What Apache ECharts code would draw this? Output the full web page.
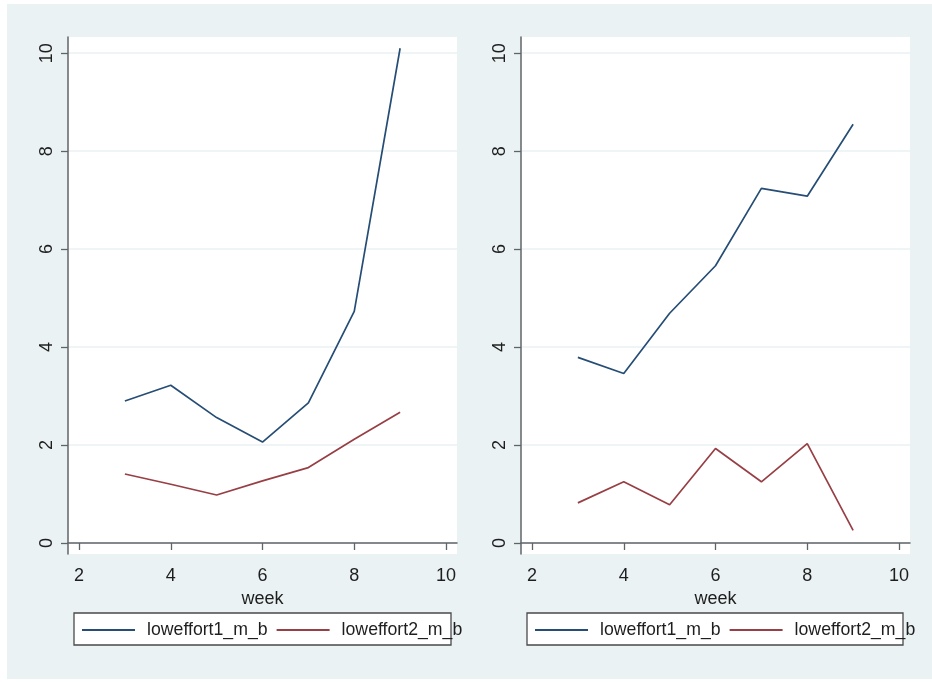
<!DOCTYPE html>
<html>
<head>
<meta charset="utf-8">
<title>loweffort by week</title>
<script src="https://cdn.jsdelivr.net/npm/echarts@6/dist/echarts.min.js"></script>
<style>
  html, body { margin: 0; padding: 0; background: #ffffff; }
  #chart { width: 932px; height: 682px; }
</style>
</head>
<body>
<div id="chart"></div>
<script>
// Weeks on the horizontal axis
const weeks = [3, 4, 5, 6, 7, 8, 9];

// Left panel
const leftLow1 = [2.90, 3.22, 2.56, 2.06, 2.86, 4.73, 10.10];
const leftLow2 = [1.41, 1.20, 0.98, 1.27, 1.54, 2.12, 2.67];

// Right panel
const rightLow1 = [3.79, 3.46, 4.69, 5.66, 7.24, 7.08, 8.55];
const rightLow2 = [0.82, 1.25, 0.78, 1.93, 1.25, 2.03, 0.26];

// Axis tick labels
const xTicks = [2, 4, 6, 8, 10];
const yTicks = [0, 2, 4, 6, 8, 10];

const seriesNames = ['loweffort1_m_b', 'loweffort2_m_b'];
const colors = ['#264d75', '#983f45'];

const FONT = 'Liberation Sans, Arial, sans-serif';
const AXIS_COLOR = '#5f6468';
const GRID_COLOR = '#eaf2f3';
const BG = '#eaf2f3';
const TEXT = '#1e1e1e';

function pairs(xs, ys) { return xs.map((x, i) => [x, ys[i]]); }

function xAxisFor(gridIndex) {
  return {
    type: 'value', gridIndex,
    min: 1.76, max: 10.24,
    name: 'week', nameLocation: 'middle', nameGap: 31,
    nameTextStyle: { fontFamily: FONT, fontSize: 18, color: TEXT },
    axisLine: { show: true, lineStyle: { color: AXIS_COLOR, width: 1.5 } },
    axisTick: { show: true, length: 7, customValues: xTicks, lineStyle: { color: AXIS_COLOR, width: 1.3 } },
    axisLabel: { customValues: xTicks, margin: 13, fontFamily: FONT, fontSize: 18, color: TEXT },
    splitLine: { show: false }
  };
}

function yAxisFor(gridIndex) {
  return {
    type: 'value', gridIndex,
    min: -0.224, max: 10.33,
    axisLine: { show: true, lineStyle: { color: AXIS_COLOR, width: 1.5 } },
    axisTick: { show: true, length: 7, customValues: yTicks, lineStyle: { color: AXIS_COLOR, width: 1.3 } },
    axisLabel: { customValues: yTicks, rotate: 90, margin: 12, fontFamily: FONT, fontSize: 18, color: TEXT },
    splitLine: { show: true, lineStyle: { color: GRID_COLOR, width: 1.5 } }
  };
}

function lineSeries(name, data, idx, color) {
  return {
    name, type: 'line', xAxisIndex: idx, yAxisIndex: idx,
    data, symbol: 'none', smooth: false, animation: false,
    lineStyle: { color, width: 1.7 }, itemStyle: { color }
  };
}

function legendFor(left) {
  return {
    left, top: 621, orient: 'horizontal', padding: 0,
    itemWidth: 53, itemHeight: 2, itemGap: 9, icon: 'rect',
    textStyle: { fontFamily: FONT, fontSize: 17.7, color: TEXT, padding: [0, 0, 0, 7] },
    data: seriesNames.map((n, i) => ({ name: n, itemStyle: { color: colors[i] } }))
  };
}

const chart = echarts.init(document.getElementById('chart'), null, { renderer: 'canvas' });

chart.setOption({
  animation: false,
  backgroundColor: '#ffffff',
  graphic: [
    { type: 'rect', z: -10, shape: { x: 7, y: 4, width: 925, height: 675 }, style: { fill: BG } },
    { type: 'rect', z: -5, shape: { x: 74, y: 613, width: 377, height: 32 }, style: { fill: '#ffffff', stroke: '#4a4a4a', lineWidth: 1.3 } },
    { type: 'rect', z: -5, shape: { x: 527, y: 613, width: 376, height: 32 }, style: { fill: '#ffffff', stroke: '#4a4a4a', lineWidth: 1.3 } }
  ],
  grid: [
    { left: 68, right: 475, top: 37, bottom: 128, show: true, backgroundColor: '#ffffff', borderWidth: 0 },
    { left: 521, right: 22, top: 37, bottom: 128, show: true, backgroundColor: '#ffffff', borderWidth: 0 }
  ],
  xAxis: [xAxisFor(0), xAxisFor(1)],
  yAxis: [yAxisFor(0), yAxisFor(1)],
  legend: [legendFor(82), legendFor(535)],
  series: [
    lineSeries(seriesNames[0], pairs(weeks, leftLow1), 0, colors[0]),
    lineSeries(seriesNames[1], pairs(weeks, leftLow2), 0, colors[1]),
    lineSeries(seriesNames[0], pairs(weeks, rightLow1), 1, colors[0]),
    lineSeries(seriesNames[1], pairs(weeks, rightLow2), 1, colors[1])
  ]
});
</script>
</body>
</html>
